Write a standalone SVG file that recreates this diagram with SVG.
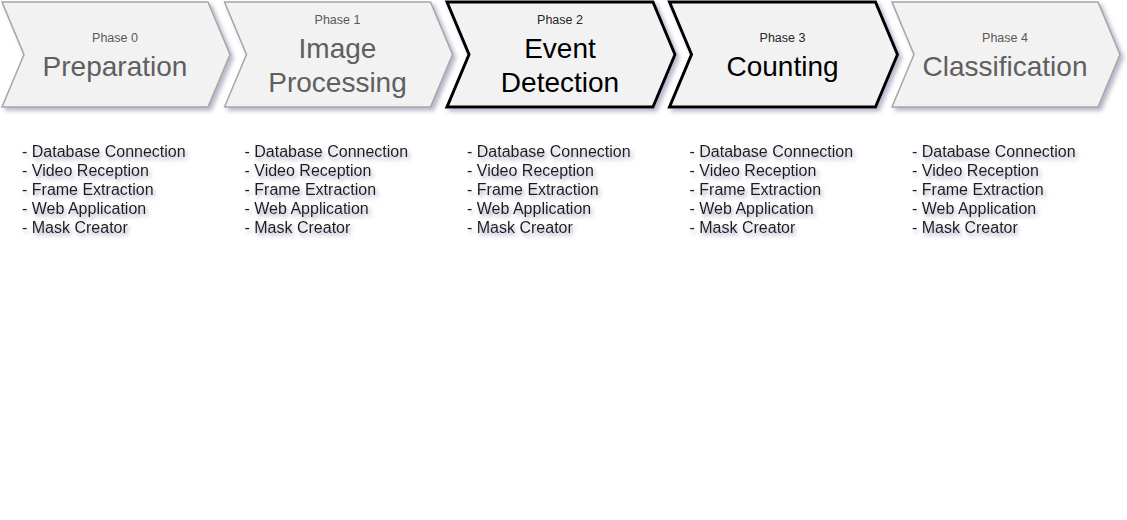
<svg xmlns="http://www.w3.org/2000/svg" width="1127" height="520" viewBox="0 0 1127 520">
<style>
.chev{fill:#f2f2f2;stroke:#a6a6a6;stroke-width:1.5;filter:url(#sh)}
.chev.act{stroke:#000;stroke-width:3}
.ph{font-family:"Liberation Sans",Arial,sans-serif;font-size:12.5px;text-anchor:middle;fill:#595959}
.tt{font-family:"Liberation Sans",Arial,sans-serif;font-size:28px;text-anchor:middle;fill:#5f5f5f}
.act .ph{fill:#262626}
.act .tt{fill:#000}
.list{font-family:"Liberation Sans",Arial,sans-serif;font-size:16px;fill:#1a1a1a;filter:url(#tsh)}
</style>
<defs>
<filter id="sh" x="-10%" y="-10%" width="125%" height="130%">
<feDropShadow dx="3" dy="3" stdDeviation="2" flood-color="#7a7aa0" flood-opacity="0.55"/>
</filter>
<filter id="tsh" x="-10%" y="-30%" width="125%" height="180%">
<feDropShadow dx="2" dy="3" stdDeviation="2.3" flood-color="#7878a0" flood-opacity="0.7"/>
</filter>
</defs>
<g id="phase0">
<path class="chev" d="M2,2 L208,2 L230,54.5 L208,107 L2,107 L24,54.5 Z"/>
<text class="ph" x="115" y="42">Phase 0</text>
<text class="tt" x="115" y="76">Preparation</text>
</g>
<g id="phase1">
<path class="chev" d="M224.5,2 L430.5,2 L452.5,54.5 L430.5,107 L224.5,107 L246.5,54.5 Z"/>
<text class="ph" x="337.5" y="24">Phase 1</text>
<text class="tt" x="337.5" y="58">Image</text>
<text class="tt" x="337.5" y="92">Processing</text>
</g>
<g id="phase2" class="act">
<path class="chev act" d="M447,2 L653,2 L675,54.5 L653,107 L447,107 L469,54.5 Z"/>
<text class="ph" x="560" y="24">Phase 2</text>
<text class="tt" x="560" y="58">Event</text>
<text class="tt" x="560" y="92">Detection</text>
</g>
<g id="phase3" class="act">
<path class="chev act" d="M669.5,2 L875.5,2 L897.5,54.5 L875.5,107 L669.5,107 L691.5,54.5 Z"/>
<text class="ph" x="782.5" y="42">Phase 3</text>
<text class="tt" x="782.5" y="76">Counting</text>
</g>
<g id="phase4">
<path class="chev" d="M892,2 L1098,2 L1120,54.5 L1098,107 L892,107 L914,54.5 Z"/>
<text class="ph" x="1005" y="42">Phase 4</text>
<text class="tt" x="1005" y="76">Classification</text>
</g>
<g id="list0" class="list">
<text x="22" y="157">- Database Connection</text>
<text x="22" y="176">- Video Reception</text>
<text x="22" y="195">- Frame Extraction</text>
<text x="22" y="214">- Web Application</text>
<text x="22" y="233">- Mask Creator</text>
</g>
<g id="list1" class="list">
<text x="244.5" y="157">- Database Connection</text>
<text x="244.5" y="176">- Video Reception</text>
<text x="244.5" y="195">- Frame Extraction</text>
<text x="244.5" y="214">- Web Application</text>
<text x="244.5" y="233">- Mask Creator</text>
</g>
<g id="list2" class="list">
<text x="467" y="157">- Database Connection</text>
<text x="467" y="176">- Video Reception</text>
<text x="467" y="195">- Frame Extraction</text>
<text x="467" y="214">- Web Application</text>
<text x="467" y="233">- Mask Creator</text>
</g>
<g id="list3" class="list">
<text x="689.5" y="157">- Database Connection</text>
<text x="689.5" y="176">- Video Reception</text>
<text x="689.5" y="195">- Frame Extraction</text>
<text x="689.5" y="214">- Web Application</text>
<text x="689.5" y="233">- Mask Creator</text>
</g>
<g id="list4" class="list">
<text x="912" y="157">- Database Connection</text>
<text x="912" y="176">- Video Reception</text>
<text x="912" y="195">- Frame Extraction</text>
<text x="912" y="214">- Web Application</text>
<text x="912" y="233">- Mask Creator</text>
</g>
<g id="connectors"/>
</svg>
